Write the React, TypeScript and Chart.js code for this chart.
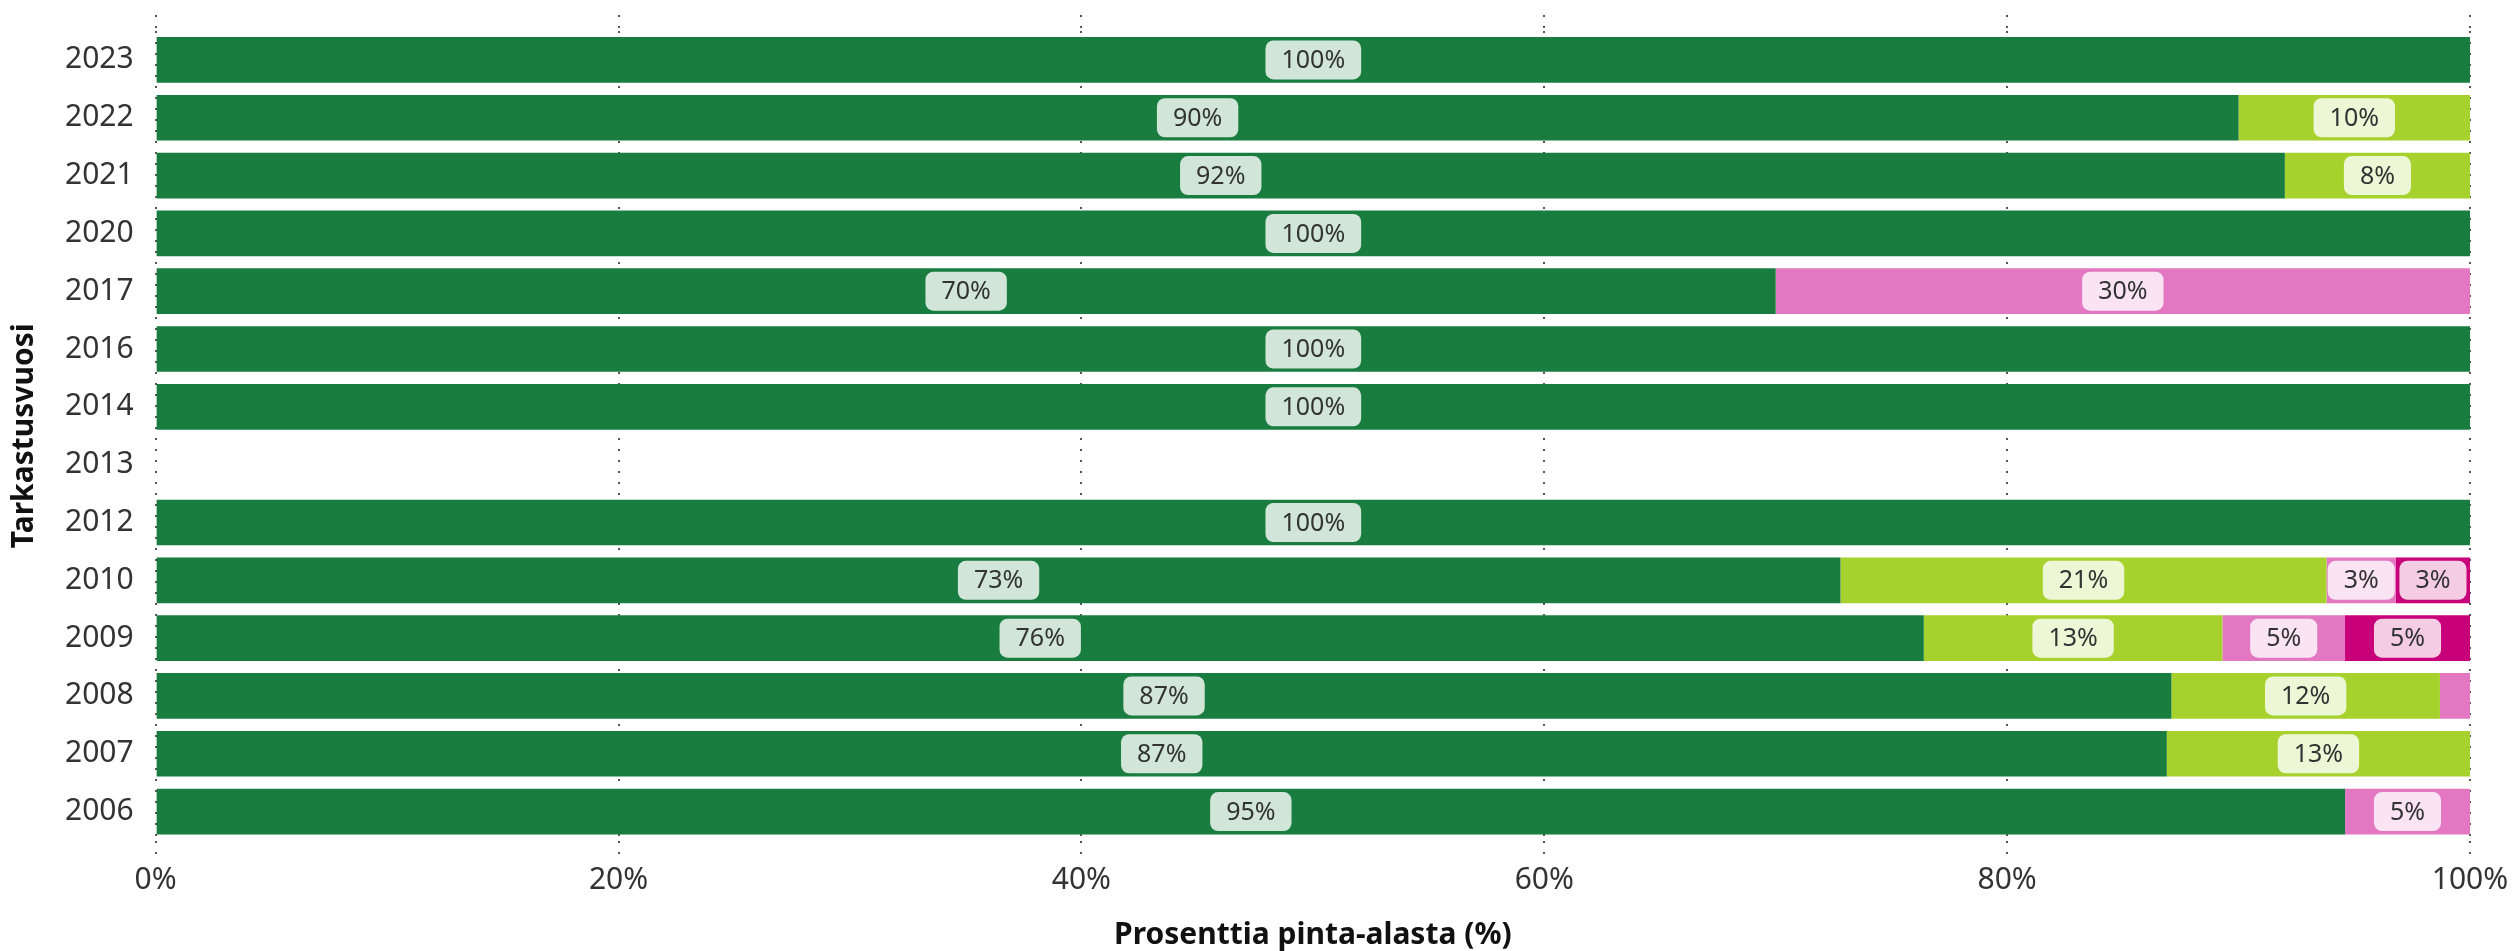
import { useEffect, useRef } from "react";
import { Chart, registerables, type ChartConfiguration, type Plugin } from "chart.js";

Chart.register(...registerables);

const YEARS = ["2023", "2022", "2021", "2020", "2017", "2016", "2014", "2013", "2012", "2010", "2009", "2008", "2007", "2006"];

// shares of area per class (null = no data that year)
const DARK_GREEN = [100, 90, 92, 100, 70, 100, 100, null, 100, 72.8, 76.4, 87.1, 86.9, 94.6];
const LIGHT_GREEN = [0, 10, 8, 0, 0, 0, 0, null, 0, 21.0, 12.9, 11.6, 13.1, 0];
const PINK = [0, 0, 0, 0, 30, 0, 0, null, 0, 3.0, 5.3, 1.3, 0, 5.4];
const MAGENTA = [0, 0, 0, 0, 0, 0, 0, null, 0, 3.2, 5.4, 0, 0, 0];

const SERIES = ["Luokka 1", "Luokka 2", "Luokka 3", "Luokka 4"];
const COLORS = ["#1a7d40", "#a7d22e", "#e377c2", "#c8007a"];
const X_TICKS = [0, 20, 40, 60, 80, 100];

const FONT = "'Segoe UI', 'Noto Sans', sans-serif";
const TEXT = "#333";
const DOTS = "#555";

// rounded white boxes with the rounded percentage in the middle of each segment
const segmentLabels: Plugin<"bar"> = {
  id: "segmentLabels",
  afterDatasetsDraw(chart) {
    const ctx = chart.ctx;
    ctx.save();
    ctx.font = `25px ${FONT}`;
    ctx.textAlign = "center";
    ctx.textBaseline = "middle";
    chart.data.datasets.forEach((ds, di) => {
      const meta = chart.getDatasetMeta(di);
      if (meta.hidden) return;
      meta.data.forEach((el: any, i) => {
        const v = ds.data[i] as number | null;
        if (v == null || v < 2) return;
        const txt = `${Math.round(v)}%`;
        const cx = (el.x + el.base) / 2;
        const cy = el.y;
        const w = ctx.measureText(txt).width + 32;
        const h = 39;
        ctx.fillStyle = "rgba(255,255,255,0.8)";
        ctx.beginPath();
        ctx.roundRect(cx - w / 2, cy - h / 2, w, h, 8);
        ctx.fill();
        ctx.fillStyle = TEXT;
        ctx.fillText(txt, cx, cy + 1);
      });
    });
    ctx.restore();
  },
};

export default function App() {
  const canvasRef = useRef<HTMLCanvasElement>(null);
  const chartRef = useRef<Chart | null>(null);

  useEffect(() => {
    if (!canvasRef.current) return;
    chartRef.current?.destroy();

    const values = [DARK_GREEN, LIGHT_GREEN, PINK, MAGENTA];

    const cfg: ChartConfiguration<"bar"> = {
      type: "bar",
      data: {
        labels: YEARS,
        datasets: values.map((d, i) => ({
          label: SERIES[i],
          data: d,
          backgroundColor: COLORS[i],
          borderWidth: 0,
          categoryPercentage: 1,
          barPercentage: 0.79,
        })),
      },
      options: {
        indexAxis: "y",
        responsive: true,
        maintainAspectRatio: false,
        animation: false,
        layout: { padding: { top: 15, right: 44, bottom: 0, left: 6 } },
        plugins: {
          legend: { display: false },
          tooltip: { enabled: false },
        },
        scales: {
          x: {
            stacked: true,
            min: 0,
            max: 100,
            afterBuildTicks: (s) => {
              s.ticks = X_TICKS.map((v) => ({ value: v }));
            },
            grid: {
              color: DOTS,
              lineWidth: 2,
              tickLength: 20,
              tickColor: DOTS,
              tickBorderDash: [2, 9],
            },
            border: { display: false, dash: [2, 9] },
            ticks: {
              color: TEXT,
              font: { family: FONT, size: 30 },
              padding: 2,
              callback: (v) => `${v}%`,
            },
            title: {
              display: true,
              text: "Prosenttia pinta-alasta (%)",
              color: "#111",
              font: { family: FONT, size: 30, weight: "bold", lineHeight: 1.05 },
              padding: { top: 19, bottom: 0 },
            },
          },
          xTop: {
            position: "top",
            min: 0,
            max: 100,
            afterBuildTicks: (s) => {
              s.ticks = X_TICKS.map((v) => ({ value: v }));
            },
            grid: {
              drawOnChartArea: false,
              color: DOTS,
              lineWidth: 2,
              tickLength: 16,
              tickColor: DOTS,
              tickBorderDash: [2, 9],
            },
            border: { display: false },
            ticks: { display: false },
          },
          y: {
            stacked: true,
            // grid hidden, but the tick length still spaces the labels from the bars
            grid: { display: false, drawTicks: true, tickLength: 18 },
            border: { display: false },
            ticks: {
              color: TEXT,
              font: { family: FONT, size: 30 },
              padding: 4,
            },
            title: {
              display: true,
              text: "Tarkastusvuosi",
              color: "#111",
              font: { family: FONT, size: 30, weight: "bold" },
              padding: { top: 0, bottom: 19 },
            },
          },
        },
      },
      plugins: [segmentLabels],
    };

    chartRef.current = new Chart(canvasRef.current, cfg);
    return () => {
      chartRef.current?.destroy();
    };
  }, []);

  return (
    <div style={{ position: "fixed", left: 0, top: 0, width: 2514, height: 951, background: "#fff" }}>
      <canvas ref={canvasRef} />
    </div>
  );
}
